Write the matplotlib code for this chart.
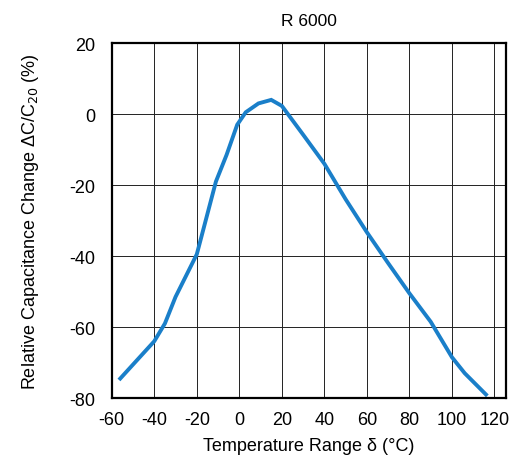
import matplotlib
matplotlib.use("Agg")
import matplotlib.pyplot as plt

# data
temperature = [-56, -40, -35, -30, -20, -11, -6, -1, 3, 9, 15, 20, 30, 40, 50, 60, 70, 80, 90, 100, 106, 116]
cap_change = [-74.5, -64, -59, -51.5, -39.5, -19, -11.5, -3, 0.5, 3, 4, 2.3, -5.8, -14, -24, -33.3, -42, -50.5, -58.5, -68.5, -73, -79]

x_ticks = [-60, -40, -20, 0, 20, 40, 60, 80, 100, 120]
y_ticks = [20, 0, -20, -40, -60, -80]

plt.rcParams["font.family"] = ["Liberation Sans", "DejaVu Sans"]
plt.rcParams["font.size"] = 13
plt.rcParams["axes.unicode_minus"] = False

fig = plt.figure(figsize=(5.15, 4.64), dpi=100)
ax = fig.add_axes([0.217, 0.140, 0.765, 0.765])

ax.plot(temperature, cap_change, color="#1a7fc9", linewidth=2.8, solid_joinstyle="miter")

ax.set_xlim(-60, 125.3)
ax.set_ylim(-80, 20)
ax.set_xticks(x_ticks)
ax.set_yticks(y_ticks)
ax.grid(True, color="#222222", linewidth=0.7)
ax.set_axisbelow(True)
ax.tick_params(axis="x", length=0, pad=9, labelsize=13)
ax.tick_params(axis="y", length=0, pad=12, labelsize=13)
for s in ax.spines.values():
    s.set_linewidth(1.6)

ax.set_title("R 6000", fontsize=12.5, pad=13)
ax.set_xlabel("Temperature Range δ (°C)", fontsize=13, labelpad=7)
ax.set_ylabel("Relative Capacitance Change ΔC/C$_{20}$ (%)", fontsize=13, labelpad=20)

plt.savefig("out.png", dpi=100)
